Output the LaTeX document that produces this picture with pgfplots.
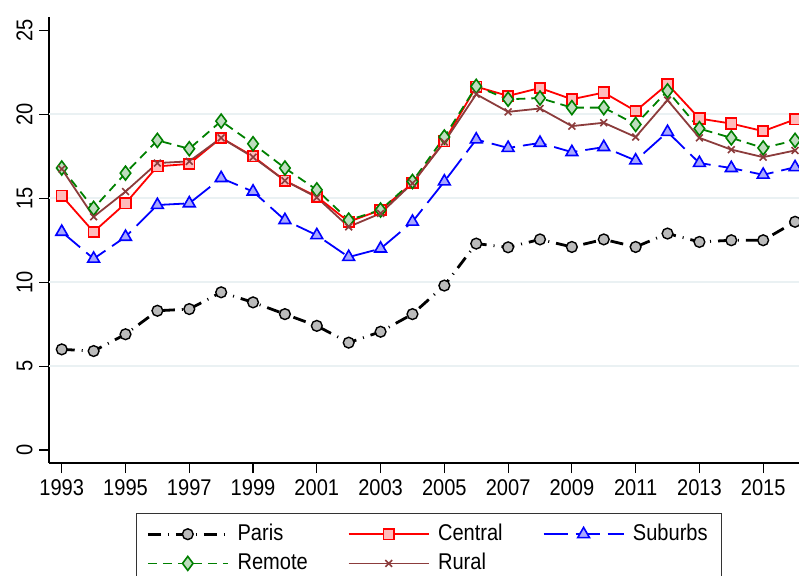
\documentclass[border=0pt]{standalone}
\usepackage{fontspec}
\setmainfont{Liberation Sans}[FakeStretch=0.88]
\usepackage{pgfplots}
\usepackage{pgfplotstable}
\pgfplotsset{compat=1.18}
\definecolor{gridc}{HTML}{EAF1F3}
\definecolor{pinkf}{HTML}{FFBCBC}
\definecolor{bluef}{HTML}{A8A8FF}
\definecolor{greenc}{HTML}{008000}
\definecolor{greenf}{HTML}{BEDDBE}
\definecolor{brownc}{HTML}{8C3C3C}
\definecolor{grayf}{HTML}{BBBBBB}
\pgfplotstableread{
year paris central suburbs remote rural
1993 6.0 15.15 13.0 16.8 16.75
1994 5.9 13.0 11.4 14.4 13.9
1995 6.9 14.7 12.7 16.5 15.4
1996 8.3 16.9 14.6 18.45 17.1
1997 8.4 17.05 14.7 17.95 17.2
1998 9.4 18.6 16.2 19.6 18.6
1999 8.8 17.5 15.4 18.25 17.45
2000 8.1 16.05 13.7 16.8 16.05
2001 7.4 15.1 12.8 15.5 15.05
2002 6.4 13.6 11.5 13.7 13.3
2003 7.05 14.3 12.0 14.3 14.1
2004 8.1 15.9 13.6 16.0 15.9
2005 9.8 18.4 16.0 18.65 18.35
2006 12.3 21.65 18.5 21.67 21.2
2007 12.08 21.1 18.0 20.9 20.15
2008 12.55 21.57 18.3 20.97 20.35
2009 12.1 20.9 17.75 20.4 19.3
2010 12.55 21.3 18.05 20.4 19.5
2011 12.1 20.2 17.25 19.4 18.65
2012 12.9 21.8 18.95 21.4 20.85
2013 12.4 19.75 17.1 19.15 18.6
2014 12.5 19.45 16.8 18.6 17.9
2015 12.5 19.0 16.4 18.0 17.45
2016 13.6 19.7 16.85 18.45 17.85
}\datatable
\begin{document}
\begin{tikzpicture}
\path[use as bounding box, clip] (-24.5pt,-56pt) rectangle (375pt,231.5pt);
\begin{axis}[
  scale only axis, width=381pt, height=223pt,
  xmin=1992.6, xmax=2016.5, ymin=-0.77, ymax=25.8,
  axis x line*=bottom, axis y line*=left,
  axis line style={line width=0.7pt},
  xtick={1993,1995,...,2015}, ytick={0,5,...,25},
  extra y ticks={5,10,15,20}, extra y tick labels={},
  extra y tick style={grid=major, major tick length=0pt},
  major grid style={color=gridc, line width=1pt},
  tick align=outside, major tick length=5pt,
  tick style={black, line width=0.6pt},
  /pgf/number format/assume math mode=true,
  /pgf/number format/1000 sep={},
  ticklabel style={font=\fontsize{11.4}{13}\selectfont},
  y tick label style={rotate=90, anchor=south, inner sep=2pt, yshift=1pt},
  x tick label style={inner sep=2pt, yshift=-1pt},
  legend columns=3,
  legend cell align=left,
  legend image code/.code={\draw[mark repeat=2,mark phase=2] plot coordinates {(0pt,0pt) (20pt,0pt) (40pt,0pt)};},
  legend style={at={(0.4987,-0.1121)}, anchor=north, draw=black!80, line width=0.6pt,
    font=\fontsize{11.4}{13}\selectfont, inner xsep=5pt, inner ysep=3pt,
    nodes={inner sep=2pt, text height=8.2pt, text depth=2.4pt},
    /tikz/every odd column/.append style={column sep=2.2pt},
    /tikz/every even column/.append style={column sep=18pt},
    /tikz/row sep=0pt},
]
\addplot[black, line width=1.4pt, dash pattern=on 6.5pt off 3.5pt on 0.5pt off 3.5pt,
  mark=*, mark size=2.7pt, mark options={solid, fill=grayf, draw=black, line width=0.7pt}]
  table[x=year, y=paris] {\datatable};
\addlegendentry{Paris}
\addplot[red, line width=0.9pt,
  mark=square*, mark size=2.6pt, mark options={solid, fill=pinkf, draw=red, line width=0.9pt}]
  table[x=year, y=central] {\datatable};
\addlegendentry{Central}
\addplot[blue, line width=0.9pt, dash pattern=on 12pt off 4pt,
  mark=triangle*, mark size=3.4pt, mark options={solid, fill=bluef, draw=blue, line width=0.8pt}]
  table[x=year, y=suburbs] {\datatable};
\addlegendentry{Suburbs}
\addplot[greenc, line width=0.9pt, dash pattern=on 4.5pt off 3pt,
  mark=diamond*, mark size=3.5pt, mark options={solid, fill=greenf, draw=greenc, line width=0.8pt}]
  table[x=year, y=remote] {\datatable};
\addlegendentry{Remote}
\addplot[brownc, line width=0.9pt,
  mark=x, mark size=2.4pt, mark options={solid, draw=brownc, line width=0.8pt}]
  table[x=year, y=rural] {\datatable};
\addlegendentry{Rural}
\end{axis}
\end{tikzpicture}
\end{document}
